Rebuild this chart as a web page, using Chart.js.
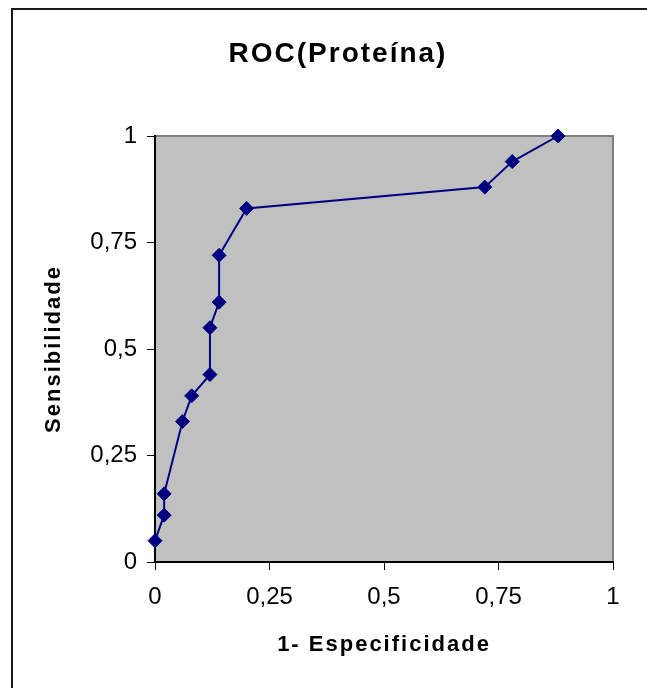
<!DOCTYPE html>
<html>
<head>
<meta charset="utf-8">
<title>ROC(Proteína)</title>
<script src="https://cdn.jsdelivr.net/npm/chart.js@4.4.1/dist/chart.umd.min.js"></script>
<style>
  html, body { margin: 0; padding: 0; background: #fff; overflow: hidden; }
  #chart { display: block; }
</style>
</head>
<body>
<canvas id="chart" width="647" height="688"></canvas>
<script>
// ROC points
const fpr = [0, 0.02, 0.02, 0.06, 0.08, 0.12, 0.12, 0.14, 0.14, 0.20, 0.72, 0.78, 0.88];
const sens = [0.05, 0.11, 0.16, 0.33, 0.39, 0.44, 0.55, 0.61, 0.72, 0.83, 0.88, 0.94, 1.00];

const xTickLabels = ["0", "0,25", "0,5", "0,75", "1"];
const yTickLabels = ["0", "0,25", "0,5", "0,75", "1"];

const FONT = "'Liberation Sans', Arial, sans-serif";

const points = fpr.map((x, i) => ({ x: x, y: sens[i] }));

// outer frame, grey plot area, and spacing for the titles (tick labels drawn later without it)
const plotBg = {
  id: "plotBg",
  beforeDraw(chart) {
    const { ctx, chartArea: a } = chart;
    ctx.save();
    ctx.strokeStyle = "#1a1a1a";
    ctx.lineWidth = 2;
    ctx.beginPath();
    ctx.moveTo(12, chart.height);
    ctx.lineTo(12, 9);
    ctx.lineTo(chart.width, 9);
    ctx.stroke();
    ctx.fillStyle = "#c0c0c0";
    ctx.fillRect(a.left, a.top, a.right - a.left, a.bottom - a.top);
    ctx.strokeStyle = "#808080";
    ctx.strokeRect(a.left, a.top, a.right - a.left, a.bottom - a.top);
    ctx.restore();
    ctx.letterSpacing = "2px";
  },
  beforeDatasetsDraw(chart) {
    chart.ctx.letterSpacing = "0px";
  }
};

new Chart(document.getElementById("chart"), {
  type: "scatter",
  data: {
    datasets: [{
      data: points,
      showLine: true,
      borderColor: "#000080",
      borderWidth: 2,
      pointStyle: "rectRot",
      pointRadius: 7,
      pointBackgroundColor: "#000080",
      pointBorderColor: "#000080",
      pointBorderWidth: 1,
      tension: 0,
      clip: false
    }]
  },
  options: {
    responsive: false,
    animation: false,
    // left padding shifts the centred title to where the original has it
    layout: { padding: { left: 29, top: 0, right: 0, bottom: 0 } },
    plugins: {
      legend: { display: false },
      tooltip: { enabled: false },
      title: {
        display: true,
        text: "ROC(Proteína)",
        color: "#000",
        font: { family: FONT, size: 28, weight: "bold", lineHeight: 1.2 },
        padding: { top: 37, bottom: 65.4 }
      }
    },
    scales: {
      x: {
        type: "linear",
        min: 0,
        max: 1,
        afterFit(scale) { scale.height = 126; },
        afterBuildTicks(scale) { scale.ticks = xTickLabels.map((t, i) => ({ value: i * 0.25 })); },
        ticks: {
          z: 1,
          color: "#000",
          padding: 13,
          maxRotation: 0,
          font: { family: FONT, size: 24 },
          callback: (v, i) => xTickLabels[i]
        },
        grid: { drawOnChartArea: false, color: "#000", tickLength: 8, tickWidth: 1 },
        border: { display: true, color: "#000", width: 2 },
        title: {
          display: true,
          text: "1- Especificidade",
          color: "#000",
          font: { family: FONT, size: 22, weight: "bold", lineHeight: 1.2 },
          padding: { top: 0, bottom: 30 }
        }
      },
      y: {
        type: "linear",
        min: 0,
        max: 1,
        afterFit(scale) { scale.width = 126; },
        afterBuildTicks(scale) { scale.ticks = yTickLabels.map((t, i) => ({ value: i * 0.25 })); },
        ticks: {
          z: 1,
          color: "#000",
          padding: 10,
          font: { family: FONT, size: 24 },
          callback: (v, i) => yTickLabels[i]
        },
        grid: { drawOnChartArea: false, color: "#000", tickLength: 8, tickWidth: 1 },
        border: { display: true, color: "#000", width: 2 },
        title: {
          display: true,
          text: "Sensibilidade",
          color: "#000",
          font: { family: FONT, size: 22, weight: "bold", lineHeight: 1.2 },
          padding: { top: 12, bottom: 0 }
        }
      },
      // empty right-hand margin
      spacer: {
        type: "linear",
        position: "right",
        min: 0,
        max: 1,
        afterFit(scale) { scale.width = 34; },
        ticks: { display: false },
        grid: { display: false },
        border: { display: false }
      }
    }
  },
  plugins: [plotBg]
});
</script>
</body>
</html>
